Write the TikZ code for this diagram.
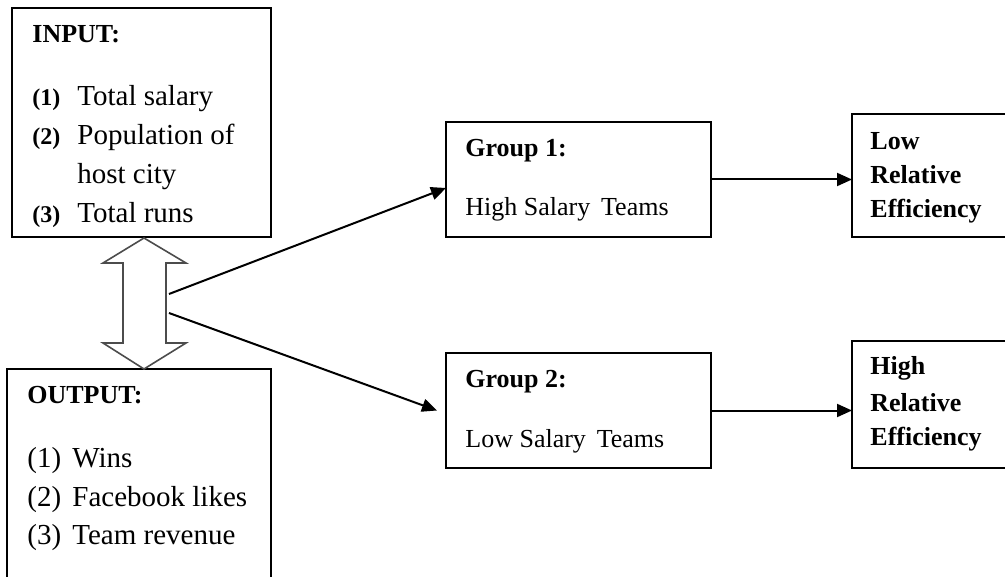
\documentclass[tikz,border=0pt]{standalone}
\usepackage{fontspec}
\setmainfont{Liberation Serif}
\usetikzlibrary{arrows.meta}
\newcommand{\bigText}{\fontsize{14.5pt}{17pt}\selectfont}
\newcommand{\midText}{\fontsize{13pt}{15pt}\selectfont}
\newcommand{\numBold}[1]{{\fontsize{12pt}{14pt}\selectfont\bfseries(#1)}}

\tikzset{
  box/.style={draw, line width=0.9pt, inner sep=0pt, outer sep=0pt, anchor=north west},
  txt/.style={anchor=base west, inner sep=0pt, font=\midText},
  bigTxt/.style={txt, font=\bigText},
  headTxt/.style={txt, font=\midText\bfseries},
  flow/.style={line width=1pt, -{Triangle[length=7.5pt,width=6.5pt]}},
  twoWay/.style={draw=black!70, line width=0.8pt, fill=white}
}

\begin{document}
\begin{tikzpicture}[x=0.5pt, y=-0.5pt]
\useasboundingbox (0,0) rectangle (1005,577);
\clip (0,0) rectangle (1005,577);

% boxes
\node[box, minimum width=129.5pt, minimum height=114.5pt] (Input) at (12,8) {};
\node[box, minimum width=132pt, minimum height=120pt] (Output) at (7,369) {};
\node[box, minimum width=132.5pt, minimum height=57.5pt] (GroupOne) at (446,122) {};
\node[box, minimum width=132.5pt, minimum height=57.5pt] (GroupTwo) at (446,353) {};
\node[box, minimum width=85pt, minimum height=61.5pt] (LowEff) at (852,114) {};
\node[box, minimum width=85pt, minimum height=63.5pt] (HighEff) at (852,341) {};

% input text
\node[headTxt] (inTitle) at (32,43) {INPUT:};
\node[txt] (inNumOne) at (32,106) {\numBold{1}};
\node[bigTxt] (inOne) at (77,106) {Total salary};
\node[txt] (inNumTwo) at (32,145) {\numBold{2}};
\node[bigTxt] (inTwo) at (77,145) {Population of};
\node[bigTxt] (inTwoMore) at (77,184) {host city};
\node[txt] (inNumThree) at (32,222) {\numBold{3}};
\node[bigTxt] (inThree) at (77,222) {Total runs};

% output text
\node[headTxt] (outTitle) at (27,403) {OUTPUT:};
\node[bigTxt] (outNumOne) at (27,467) {(1)};
\node[bigTxt] (outOne) at (72,467) {Wins};
\node[bigTxt] (outNumTwo) at (27,506) {(2)};
\node[bigTxt] (outTwo) at (72,506) {Facebook likes};
\node[bigTxt] (outNumThree) at (27,544) {(3)};
\node[bigTxt] (outThree) at (72,544) {Team revenue};

% groups
\node[headTxt] (grpOneTitle) at (465,157) {Group 1:};
\node[txt] (grpOneText) at (465,215) {High Salary\ \,Teams};
\node[headTxt] (grpTwoTitle) at (465,387) {Group 2:};
\node[txt] (grpTwoText) at (465,447) {Low Salary\ \,Teams};

% efficiency
\node[headTxt] (lowA) at (870,150) {Low};
\node[headTxt] (lowB) at (870,184) {Relative};
\node[headTxt] (lowC) at (870,218) {Efficiency};
\node[headTxt] (highA) at (870,374) {High};
\node[headTxt] (highB) at (870,411) {Relative};
\node[headTxt] (highC) at (870,445) {Efficiency};

% double arrow between input and output
\draw[twoWay] (144,238) -- (186,263) -- (166,263) -- (166,343) -- (186,343)
  -- (144,369) -- (103,343) -- (123,343) -- (123,263) -- (103,263) -- cycle;
\coordinate (splitUp) at (169,294);
\coordinate (splitDown) at (169,313);

% connectors
\draw[flow] (splitUp) -- ([yshift=-4.25pt]GroupOne.west);
\draw[flow] (splitDown) -- ([xshift=-4.5pt]GroupTwo.west);
\draw[flow] (GroupOne.east) -- (GroupOne.east -| LowEff.west);
\draw[flow] (GroupTwo.east) -- (GroupTwo.east -| HighEff.west);
\end{tikzpicture}
\end{document}
